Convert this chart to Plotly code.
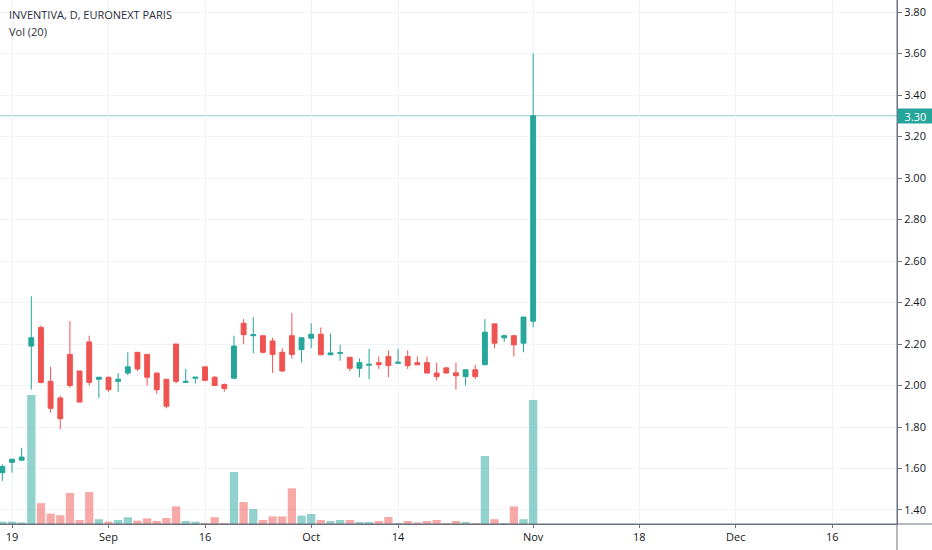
import pandas as pd
import plotly.graph_objects as go

# ---- data ----
dates = [d.strftime("%Y-%m-%d") for d in pd.bdate_range("2019-08-16", "2019-11-01")]

opens = [1.58, 1.63, 1.64, 2.19, 2.28, 2.02, 1.94, 2.15, 2.07, 2.21,
         2.03, 2.04, 2.02, 2.06, 2.16, 2.15, 2.06, 2.03, 2.20, 2.015,
         2.035, 2.09, 2.04, 2.005, 2.035, 2.30, 2.24, 2.24, 2.215, 2.16,
         2.24, 2.173, 2.228, 2.247, 2.148, 2.155, 2.136, 2.083, 2.098, 2.11,
         2.14, 2.107, 2.14, 2.11, 2.11, 2.06, 2.085, 2.061, 2.043, 2.076,
         2.10, 2.297, 2.23, 2.24, 2.204, 2.31]
highs = [1.62, 1.645, 1.70, 2.43, 2.29, 2.09, 1.95, 2.31, 2.07, 2.24,
         2.04, 2.04, 2.06, 2.16, 2.16, 2.15, 2.06, 2.03, 2.20, 2.08,
         2.04, 2.09, 2.045, 2.01, 2.24, 2.32, 2.33, 2.24, 2.23, 2.18,
         2.35, 2.23, 2.30, 2.28, 2.25, 2.196, 2.136, 2.13, 2.177, 2.14,
         2.17, 2.177, 2.17, 2.14, 2.14, 2.11, 2.085, 2.11, 2.076, 2.10,
         2.32, 2.30, 2.245, 2.24, 2.33, 3.60]
lows = [1.54, 1.58, 1.64, 1.98, 2.01, 1.87, 1.79, 1.99, 1.92, 2.00,
        1.94, 1.97, 1.97, 2.05, 2.07, 2.00, 1.96, 1.89, 2.01, 2.015,
        2.01, 2.02, 2.00, 1.97, 2.03, 2.20, 2.155, 2.155, 2.06, 2.065,
        2.13, 2.11, 2.18, 2.148, 2.148, 2.12, 2.07, 2.04, 2.03, 2.08,
        2.04, 2.105, 2.08, 2.10, 2.06, 2.024, 2.06, 1.98, 2.00, 2.03,
        2.10, 2.18, 2.21, 2.14, 2.16, 2.28]
closes = [1.61, 1.645, 1.655, 2.23, 2.015, 1.89, 1.84, 2.00, 1.92, 2.015,
          2.04, 1.98, 2.03, 2.09, 2.08, 2.04, 1.98, 1.90, 2.02, 2.02,
          2.04, 2.025, 2.00, 1.985, 2.19, 2.245, 2.245, 2.16, 2.15, 2.07,
          2.15, 2.23, 2.247, 2.148, 2.157, 2.158, 2.083, 2.11, 2.102, 2.10,
          2.096, 2.112, 2.096, 2.10, 2.06, 2.043, 2.06, 2.047, 2.076, 2.043,
          2.257, 2.204, 2.24, 2.196, 2.33, 3.30]
volumes = [12, 12, 8, 645, 104, 52, 44, 155, 20, 160,
           24, 12, 20, 34, 17, 28, 15, 30, 88, 15,
           12, 5, 34, 5, 260, 110, 75, 20, 38, 38,
           178, 42, 50, 20, 15, 20, 20, 10, 10, 15,
           35, 5, 15, 8, 15, 20, 5, 15, 10, 5,
           340, 24, 5, 88, 24, 620]

tick_dates = ["2019-08-19", "2019-09-02", "2019-09-16", "2019-10-01", "2019-10-14",
              "2019-11-01", "2019-11-18", "2019-12-02", "2019-12-16"]
tick_labels = ["19", "Sep", "16", "Oct", "14", "Nov", "18", "Dec", "16"]
price_ticks = [1.40, 1.60, 1.80, 2.00, 2.20, 2.40, 2.60, 2.80, 3.00, 3.20, 3.40, 3.60, 3.80]

UP = "#26a69a"
DOWN = "#ef5350"
UP_VOL = "rgba(38,166,154,0.5)"
DOWN_VOL = "rgba(239,83,80,0.5)"

vol_colors = [UP_VOL if c >= o else DOWN_VOL for o, c in zip(opens, closes)]

fig = go.Figure()
fig.add_trace(go.Bar(x=dates, y=volumes, marker=dict(color=vol_colors, line=dict(width=0)),
                     yaxis="y", hoverinfo="skip", showlegend=False))
fig.add_trace(go.Candlestick(
    x=dates, open=opens, high=highs, low=lows, close=closes, yaxis="y2",
    increasing=dict(line=dict(color=UP, width=1), fillcolor=UP),
    decreasing=dict(line=dict(color=DOWN, width=1), fillcolor=DOWN),
    whiskerwidth=0, showlegend=False, hoverinfo="skip"))

GRID = "#f0f3fa"
AXIS = "#6f7280"
TXT = "#131722"

fig.update_layout(
    width=932, height=550,
    margin=dict(l=0, r=35, t=0, b=26),
    paper_bgcolor="white", plot_bgcolor="white",
    font=dict(family="Open Sans", size=11, color=TXT),
    bargap=0.14, boxgap=0.28,
    xaxis=dict(
        type="date",
        rangebreaks=[dict(bounds=["sat", "mon"])],
        range=["2019-08-15 18:09", "2019-12-24 16:48"],
        tickvals=tick_dates, ticktext=tick_labels,
        ticks="outside", ticklen=3, tickcolor=AXIS,
        showgrid=True, gridcolor=GRID, gridwidth=1,
        showline=True, linecolor=AXIS, linewidth=1,
        rangeslider=dict(visible=False),
        tickfont=dict(size=11, color=TXT),
        zeroline=False,
    ),
    yaxis=dict(range=[0, 2620], visible=False, showgrid=False, fixedrange=True),
    yaxis2=dict(
        overlaying="y", side="right",
        range=[1.3325, 3.858],
        tickvals=price_ticks, tickformat=".2f",
        ticks="outside", ticklen=4, tickcolor=AXIS,
        showgrid=True, gridcolor=GRID, gridwidth=1,
        showline=True, linecolor=AXIS, linewidth=1,
        tickfont=dict(size=11, color=TXT),
        zeroline=False,
    ),
)

last_close = closes[-1]
# last price line
fig.add_shape(type="line", xref="paper", yref="y2", x0=0, x1=1, y0=last_close, y1=last_close,
              line=dict(color="rgba(38,166,154,0.55)", width=1), layer="below")
# axis lines extending into the margins
fig.add_shape(type="line", xref="paper", yref="paper", x0=1, x1=1, y0=-0.06, y1=1,
              line=dict(color=AXIS, width=1))
fig.add_shape(type="line", xref="paper", yref="paper", x0=0, x1=1.05, y0=0, y1=0,
              line=dict(color=AXIS, width=1))

fig.add_annotation(xref="paper", yref="y2", x=1, y=last_close, xanchor="left", yanchor="middle",
                   text=f"{last_close:.2f}", showarrow=False, bgcolor=UP,
                   font=dict(color="white", size=11), width=35, height=14, borderpad=0)

fig.add_annotation(xref="paper", yref="paper", x=7 / 897, y=1 - 15 / 524, xanchor="left",
                   yanchor="middle", text="INVENTIVA, D, EURONEXT PARIS", showarrow=False,
                   font=dict(size=11, color="#2a2e39"))
fig.add_annotation(xref="paper", yref="paper", x=7 / 897, y=1 - 31 / 524, xanchor="left",
                   yanchor="middle", text="Vol (20)", showarrow=False,
                   font=dict(size=11, color="#2a2e39"))

fig.write_html("out.html", config={"displayModeBar": False},
               post_script="document.body.style.margin='0';document.body.style.overflow='hidden';")
